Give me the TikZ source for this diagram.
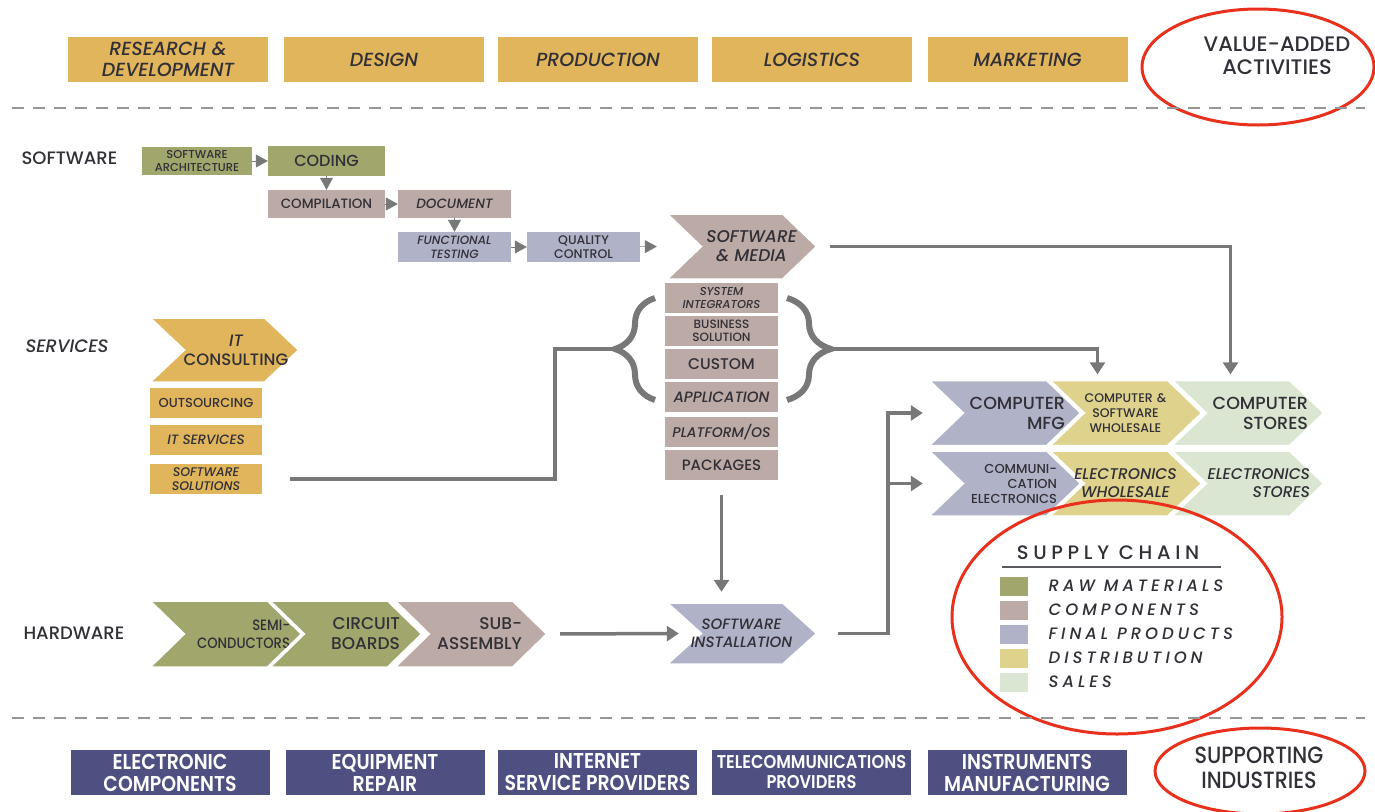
\documentclass[tikz,border=0pt]{standalone}
\usepackage{fontspec}
\setmainfont{Poppins}[UprightFont=* Medium, ItalicFont=* Medium Italic, BoldFont=* SemiBold, BoldItalicFont=* SemiBold Italic]
\newfontfamily\legendfont{Poppins}[UprightFont=* Medium, ItalicFont=* Medium Italic, LetterSpace=24]
\newfontfamily\condfont{Poppins}[UprightFont=* Medium, BoldFont=* SemiBold, FakeStretch=0.88]
\usetikzlibrary{arrows.meta,positioning,decorations.pathreplacing}

\definecolor{gold}{RGB}{224,181,92}
\definecolor{rawmat}{RGB}{160,166,108}
\definecolor{compo}{RGB}{188,170,166}
\definecolor{finalp}{RGB}{176,178,200}
\definecolor{distrib}{RGB}{222,210,140}
\definecolor{sales}{RGB}{218,230,210}
\definecolor{navy}{RGB}{78,80,130}
\definecolor{arrgray}{RGB}{120,120,120}
\definecolor{dashgray}{RGB}{150,150,150}
\definecolor{ringred}{RGB}{232,48,28}
\definecolor{ink}{RGB}{50,48,55}

\newcommand{\chevdepth}{35pt}
\newcommand{\fsz}[2]{\fontsize{#1}{#2}\selectfont}

\tikzset{
  lab/.style={anchor=west, text=ink, font=\fsz{18}{21}},
  topbox/.style={rectangle, fill=gold, minimum width=200, minimum height=45, align=center, text=ink, font=\fsz{19}{21}\itshape},
  indbox/.style={rectangle, fill=navy, minimum width=199, minimum height=45, align=center, text=white, font=\condfont\bfseries\fsz{21.5}{22}},
  stage/.style={rectangle, fill=#1, inner sep=1pt, align=center, text=ink},
  chev/.style={rectangle, inner sep=0pt, minimum width=155, minimum height=67, align=center, text=ink,
    path picture={\filldraw[fill=#1, draw=white, line width=3.5pt]
      (path picture bounding box.north west)
      -- ([xshift=-\chevdepth]path picture bounding box.north east)
      -- (path picture bounding box.east)
      -- ([xshift=-\chevdepth]path picture bounding box.south east)
      -- (path picture bounding box.south west)
      -- ([xshift=\chevdepth]path picture bounding box.west) -- cycle;}},
  tinyarr/.style={draw=arrgray, line width=0.6pt, -{Triangle[length=12pt,width=13pt]}},
  arr/.style={draw=arrgray, line width=3.5pt, -{Triangle[length=12pt,width=15pt]}},
  conn/.style={draw=arrgray, line width=3.5pt},
  bigbrace/.style={draw=arrgray, line width=6pt, decorate, decoration={brace, amplitude=#1}},
  divider/.style={draw=dashgray, line width=2pt, dash pattern=on 12pt off 9pt},
  redring/.style={draw=ringred, line width=3pt},
  legkey/.style={rectangle, fill=#1, minimum width=28, minimum height=19, inner sep=0pt},
  keytxt/.style={anchor=west, text=ink, font=\legendfont\itshape\fsz{16.5}{18}},
}

\begin{document}
\begin{tikzpicture}[x=1pt, y=-1pt]
  \useasboundingbox (0,0) rectangle (1375,811);

  % Value-added activities
  \node[topbox] (rnd) at (168,59.5) {RESEARCH \&\\DEVELOPMENT};
  \node[topbox] (design) at (384,59.5) {DESIGN};
  \node[topbox] (prod) at (598,59.5) {PRODUCTION};
  \node[topbox] (logi) at (812,59.5) {LOGISTICS};
  \node[topbox] (mark) at (1027.5,59.5) {MARKETING};
  \node[text=ink, align=center, font=\fsz{21}{23}] (vaa) at (1277,56) {VALUE-ADDED\\ACTIVITIES};
  \draw[redring] (1258,67) ellipse (116 and 58);

  \draw[divider] (12,108) -- (1365,108);

  % Software
  \node[lab] (swlab) at (18,158) {SOFTWARE};
  \node[stage=rawmat, minimum width=110, minimum height=28, font=\fsz{11.5}{13}] (arch) at (197,161) {SOFTWARE\\ARCHITECTURE};
  \node[stage=rawmat, minimum width=117, minimum height=30, font=\fsz{16}{18}] (coding) at (326.5,161) {CODING};
  \node[stage=compo, minimum width=117, minimum height=28, font=\fsz{13.5}{14}] (compil) at (326.5,204) {COMPILATION};
  \node[stage=compo, minimum width=113, minimum height=28, font=\fsz{13.5}{14}\itshape] (docu) at (454.5,204) {DOCUMENT};
  \node[stage=finalp, minimum width=113, minimum height=30, font=\fsz{12}{14}\itshape] (ftest) at (454.5,247) {FUNCTIONAL\\TESTING};
  \node[stage=finalp, minimum width=113, minimum height=30, font=\fsz{12.5}{14}] (qc) at (583.5,247) {QUALITY\\CONTROL};
  \node[chev=compo, minimum width=153, font=\fsz{17}{19}\itshape] (media) at (741.5,246.5) {\hspace*{20pt}SOFTWARE\\\hspace*{20pt}\& MEDIA};

  \draw[tinyarr] (arch) -- (coding);
  \draw[tinyarr] (coding) -- (compil);
  \draw[tinyarr] (compil) -- (docu);
  \draw[tinyarr] (docu) -- (ftest);
  \draw[tinyarr] (ftest) -- (qc);
  \draw[tinyarr, shorten >=8pt] (qc) -- (media.west);

  % Services
  \node[lab, font=\fsz{18}{21}\itshape] (srvlab) at (22,346) {SERVICES};
  \node[chev=gold, minimum width=152, minimum height=66, font=\fsz{16.5}{19}] (itc) at (224,350) {\hspace*{24pt}{\itshape IT}\\\hspace*{24pt}CONSULTING};
  \node[stage=gold, minimum width=112, minimum height=30, font=\fsz{13}{15}] (outs) at (206,403) {OUTSOURCING};
  \node[stage=gold, minimum width=112, minimum height=30, font=\fsz{13.5}{15}\itshape] (itsrv) at (206,440) {IT SERVICES};
  \node[stage=gold, minimum width=112, minimum height=30, font=\fsz{12.5}{14}\itshape] (sols) at (206,479) {SOFTWARE\\SOLUTIONS};

  % Software stack
  \node[stage=compo, minimum width=113, minimum height=30, font=\fsz{11.5}{13}\itshape] (sysint) at (721.5,298) {SYSTEM\\INTEGRATORS};
  \node[stage=compo, minimum width=113, minimum height=30, font=\fsz{12}{13}] (bizsol) at (721.5,331) {BUSINESS\\SOLUTION};
  \node[stage=compo, minimum width=113, minimum height=30, font=\fsz{15.5}{17}] (custom) at (721.5,364) {CUSTOM};
  \node[stage=compo, minimum width=113, minimum height=30, font=\fsz{15}{17}\itshape] (applic) at (721.5,397) {APPLICATION};
  \node[stage=compo, minimum width=113, minimum height=30, font=\fsz{14}{16}\itshape] (platf) at (721.5,432) {PLATFORM/OS};
  \node[stage=compo, minimum width=113, minimum height=30, font=\fsz{15}{17}] (packs) at (721.5,465) {PACKAGES};

  \draw[bigbrace=40] (655,400) -- (655,298);
  \draw[bigbrace=44] (787,298) -- (787,400);
  \coordinate (lbr) at (615,349);
  \coordinate (rbr) at (831,349);

  % Supply chain
  \node[chev=finalp, text width=121, align=right, font=\fsz{17.5}{20}] (cmfg) at (1004.5,413) {COMPUTER\\MFG};
  \node[chev=distrib, text width=112, font=\fsz{12.5}{15}] (csw) at (1125.5,413) {COMPUTER \&\\SOFTWARE\\WHOLESALE};
  \node[chev=sales, text width=121, align=right, font=\fsz{17.5}{20}] (cstor) at (1247.5,413) {COMPUTER\\STORES};
  \node[chev=finalp, text width=105, align=right, font=\fsz{13}{15}] (comel) at (1004.5,483.5) {COMMUNI-\\CATION\\ELECTRONICS};
  \node[chev=distrib, text width=130, font=\fsz{15.5}{18}\itshape] (elwh) at (1125.5,483.5) {ELECTRONICS\\WHOLESALE};
  \node[chev=sales, text width=125, align=right, font=\fsz{15.5}{18}\itshape] (elst) at (1247.5,483.5) {ELECTRONICS\\STORES};

  % Hardware
  \node[lab] (hwlab) at (20,633) {HARDWARE};
  \node[chev=rawmat, minimum height=68, text width=129, align=right, font=\condfont\fsz{15}{18}] (semi) at (225.5,634) {SEMI-\\CONDUCTORS};
  \node[chev=rawmat, minimum height=68, text width=109, align=right, font=\fsz{17}{20}] (circ) at (345.5,634) {CIRCUIT\\BOARDS};
  \node[chev=compo, minimum height=68, text width=103, align=right, font=\fsz{17}{20}] (subas) at (470.5,634) {SUB-\\ASSEMBLY};
  \node[chev=finalp, minimum width=153, minimum height=63, font=\fsz{15}{18}\itshape] (inst) at (741.5,633.5) {SOFTWARE\\INSTALLATION};

  % Connectors
  \draw[conn, shorten <=28pt] (sols.east) -| ([xshift=-60pt]lbr) -- (lbr);
  \draw[arr, shorten >=5pt] (rbr) -| ([xshift=-28pt]csw.north);
  \draw[arr, shorten <=12pt, shorten >=5pt] (media.east) -| ([xshift=-17pt]cstor.north);
  \draw[arr, shorten <=15pt, shorten >=10pt] (packs.south) -- (packs.south |- inst.north);
  \draw[arr, shorten <=12pt] (subas.east) -- ([xshift=14pt]inst.west);
  \draw[arr, shorten <=20pt, shorten >=4pt] (inst.east) -| ([xshift=-39pt]cmfg.west) -- (cmfg.west);
  \draw[arr, shorten >=4pt] ([xshift=-39pt]comel.west) -- (comel.west);

  % Legend
  \node[text=ink, font=\legendfont\fsz{19.5}{22}] (sctitle) at (1108,553) {SUPPLY CHAIN};
  \draw[draw=ink!80, line width=1.2pt] (1002,567) -- (1221,567);
  \foreach \col/\txt [count=\i] in {rawmat/RAW MATERIALS, compo/COMPONENTS, finalp/FINAL PRODUCTS, distrib/DISTRIBUTION, sales/SALES} {
    \node[legkey=\col] (k\i) at (1014, 562+24*\i) {};
    \node[keytxt, right=17pt of k\i] (t\i) {\txt};
  }
  \draw[redring] (1117,617) ellipse (165 and 117);

  \draw[divider] (12,718) -- (1365,718);

  % Supporting industries
  \node[indbox] (elcomp) at (170,772.5) {ELECTRONIC\\COMPONENTS};
  \node[indbox] (eqrep) at (385,772.5) {EQUIPMENT\\REPAIR};
  \node[indbox] (isp) at (597.5,772.5) {INTERNET\\SERVICE PROVIDERS};
  \node[indbox, font=\condfont\bfseries\fsz{18.5}{20}] (telco) at (811.5,772.5) {TELECOMMUNICATIONS\\PROVIDERS};
  \node[indbox] (instr) at (1027,772.5) {INSTRUMENTS\\MANUFACTURING};
  \node[text=ink, align=center, font=\condfont\fsz{23.5}{25}] (supind) at (1259,768) {SUPPORTING\\INDUSTRIES};
  \draw[redring] (1260,771) ellipse (105 and 43);
\end{tikzpicture}
\end{document}
